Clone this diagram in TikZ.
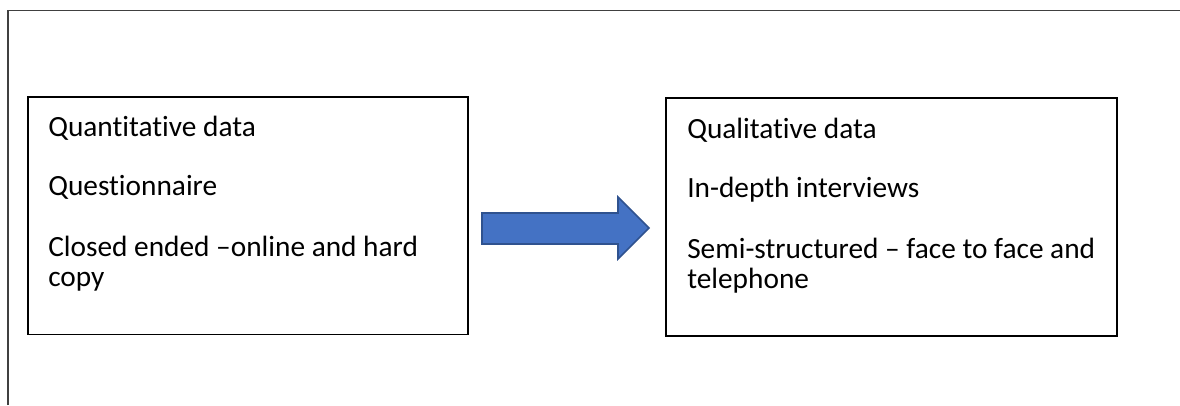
\documentclass[tikz,border=0pt]{standalone}
\usepackage{fontspec}
\setmainfont{Carlito}[Ligatures={NoCommon}]
\definecolor{arrowfill}{HTML}{4472C4}
\definecolor{arrowedge}{HTML}{2F528F}
\tikzset{
  databox/.style={draw=black, line width=1.3pt*0.75, inner sep=0pt, outer sep=0pt},
  line/.style={anchor=base west, inner sep=0pt, font=\fontsize{22pt}{22.5pt}\selectfont},
  flowarrow/.style={fill=arrowfill, draw=arrowedge, line width=1.6pt*0.75, line join=miter},
  frame/.style={draw=black!75, line width=1.1pt*0.75}
}
\begin{document}
\begin{tikzpicture}[x=0.75pt,y=-0.75pt]
  \useasboundingbox (0,0) rectangle (1180,405);
  % page frame: top and left edges
  \coordinate (fbl) at (8,405);
  \coordinate (ftl) at (8,10.5);
  \coordinate (ftr) at (1180,10.5);
  \draw[frame] (fbl) -- (ftl) -- (ftr);

  % left box: quantitative phase
  \draw[databox] (28,97) rectangle (468,334.5);
  \node[line] (q1) at (48,136) {Quantitative data};
  \node[line] (q2) at (48,195.5) {Questionnaire};
  \node[line] (q3) at (48,256.5) {Closed ended –online and hard};
  \node[line] (q4) at (48,286.5) {copy};

  % right box: qualitative phase
  \draw[databox] (666,98) rectangle (1117,336);
  \node[line] (r1) at (687,138) {Qualitative data};
  \node[line] (r2) at (687,197.5) {In-depth interviews};
  \node[line] (r3) at (687,258) {Semi-structured – face to face and};
  \node[line] (r4) at (687,288) {telephone};

  % block arrow between the two phases
  \draw[flowarrow] (482,213) -- (618,213) -- (618,197) -- (649,228)
    -- (618,259) -- (618,244) -- (482,244) -- cycle;
\end{tikzpicture}
\end{document}
